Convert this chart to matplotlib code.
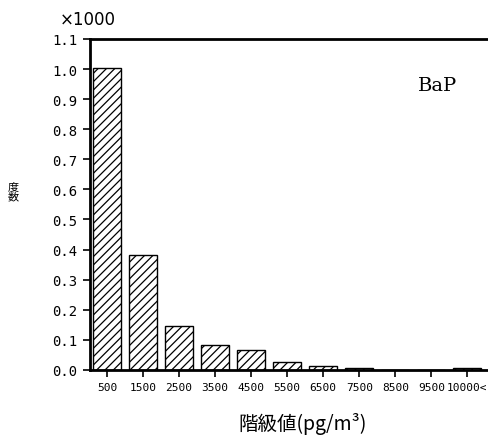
import matplotlib
matplotlib.use("Agg")
from matplotlib import pyplot as plt
import numpy as np

classes = ["500", "1500", "2500", "3500", "4500", "5500", "6500", "7500", "8500", "9500", "10000<"]
counts = [1.005, 0.383, 0.145, 0.083, 0.066, 0.026, 0.014, 0.006, 0.001, 0.001, 0.007]  # x1000
yticks = [0.0, 0.1, 0.2, 0.3, 0.4, 0.5, 0.6, 0.7, 0.8, 0.9, 1.0, 1.1]

plt.rcParams['hatch.linewidth'] = 0.9
fig = plt.figure(figsize=(4.89, 4.39), dpi=100)
ax = fig.add_axes([0.184, 0.155, 0.816, 0.754])

x = np.arange(len(classes))
ax.bar(x, counts, width=0.78, color="white", edgecolor="black", linewidth=1.0, hatch="////")

ax.set_xlim(-0.47, 10.6)
ax.set_ylim(0, 1.1)
ax.set_xticks(x)
ax.set_xticklabels(classes, fontfamily="DejaVu Sans Mono", fontsize=8)
ax.set_yticks(yticks)
ax.set_yticklabels(["%.1f" % v for v in yticks], fontfamily="DejaVu Sans Mono", fontsize=10)
ax.tick_params(direction="out", length=5, width=1.2, pad=4)

for s in ["left", "bottom", "top"]:
    ax.spines[s].set_linewidth(2)
ax.spines["right"].set_visible(False)

fig.text(60 / 489, 1 - 20 / 439, "×1000", fontsize=12, fontfamily="DejaVu Sans", va="center", ha="left")
ax.text(0.87, 0.86, "BaP", transform=ax.transAxes, fontsize=14, fontfamily="DejaVu Serif", ha="center", va="center")
fig.text(13 / 489, 1 - 192 / 439, "度\n数", fontsize=8, fontfamily=["Noto Sans CJK JP", "DejaVu Sans"],
         ha="center", va="center", linespacing=1.0)
fig.text(303 / 489, 1 - 424 / 439, "階級値(pg/m³)", fontsize=14,
         fontfamily=["Noto Sans CJK JP", "DejaVu Sans"], ha="center", va="center")

plt.savefig("out.png", dpi=100)
